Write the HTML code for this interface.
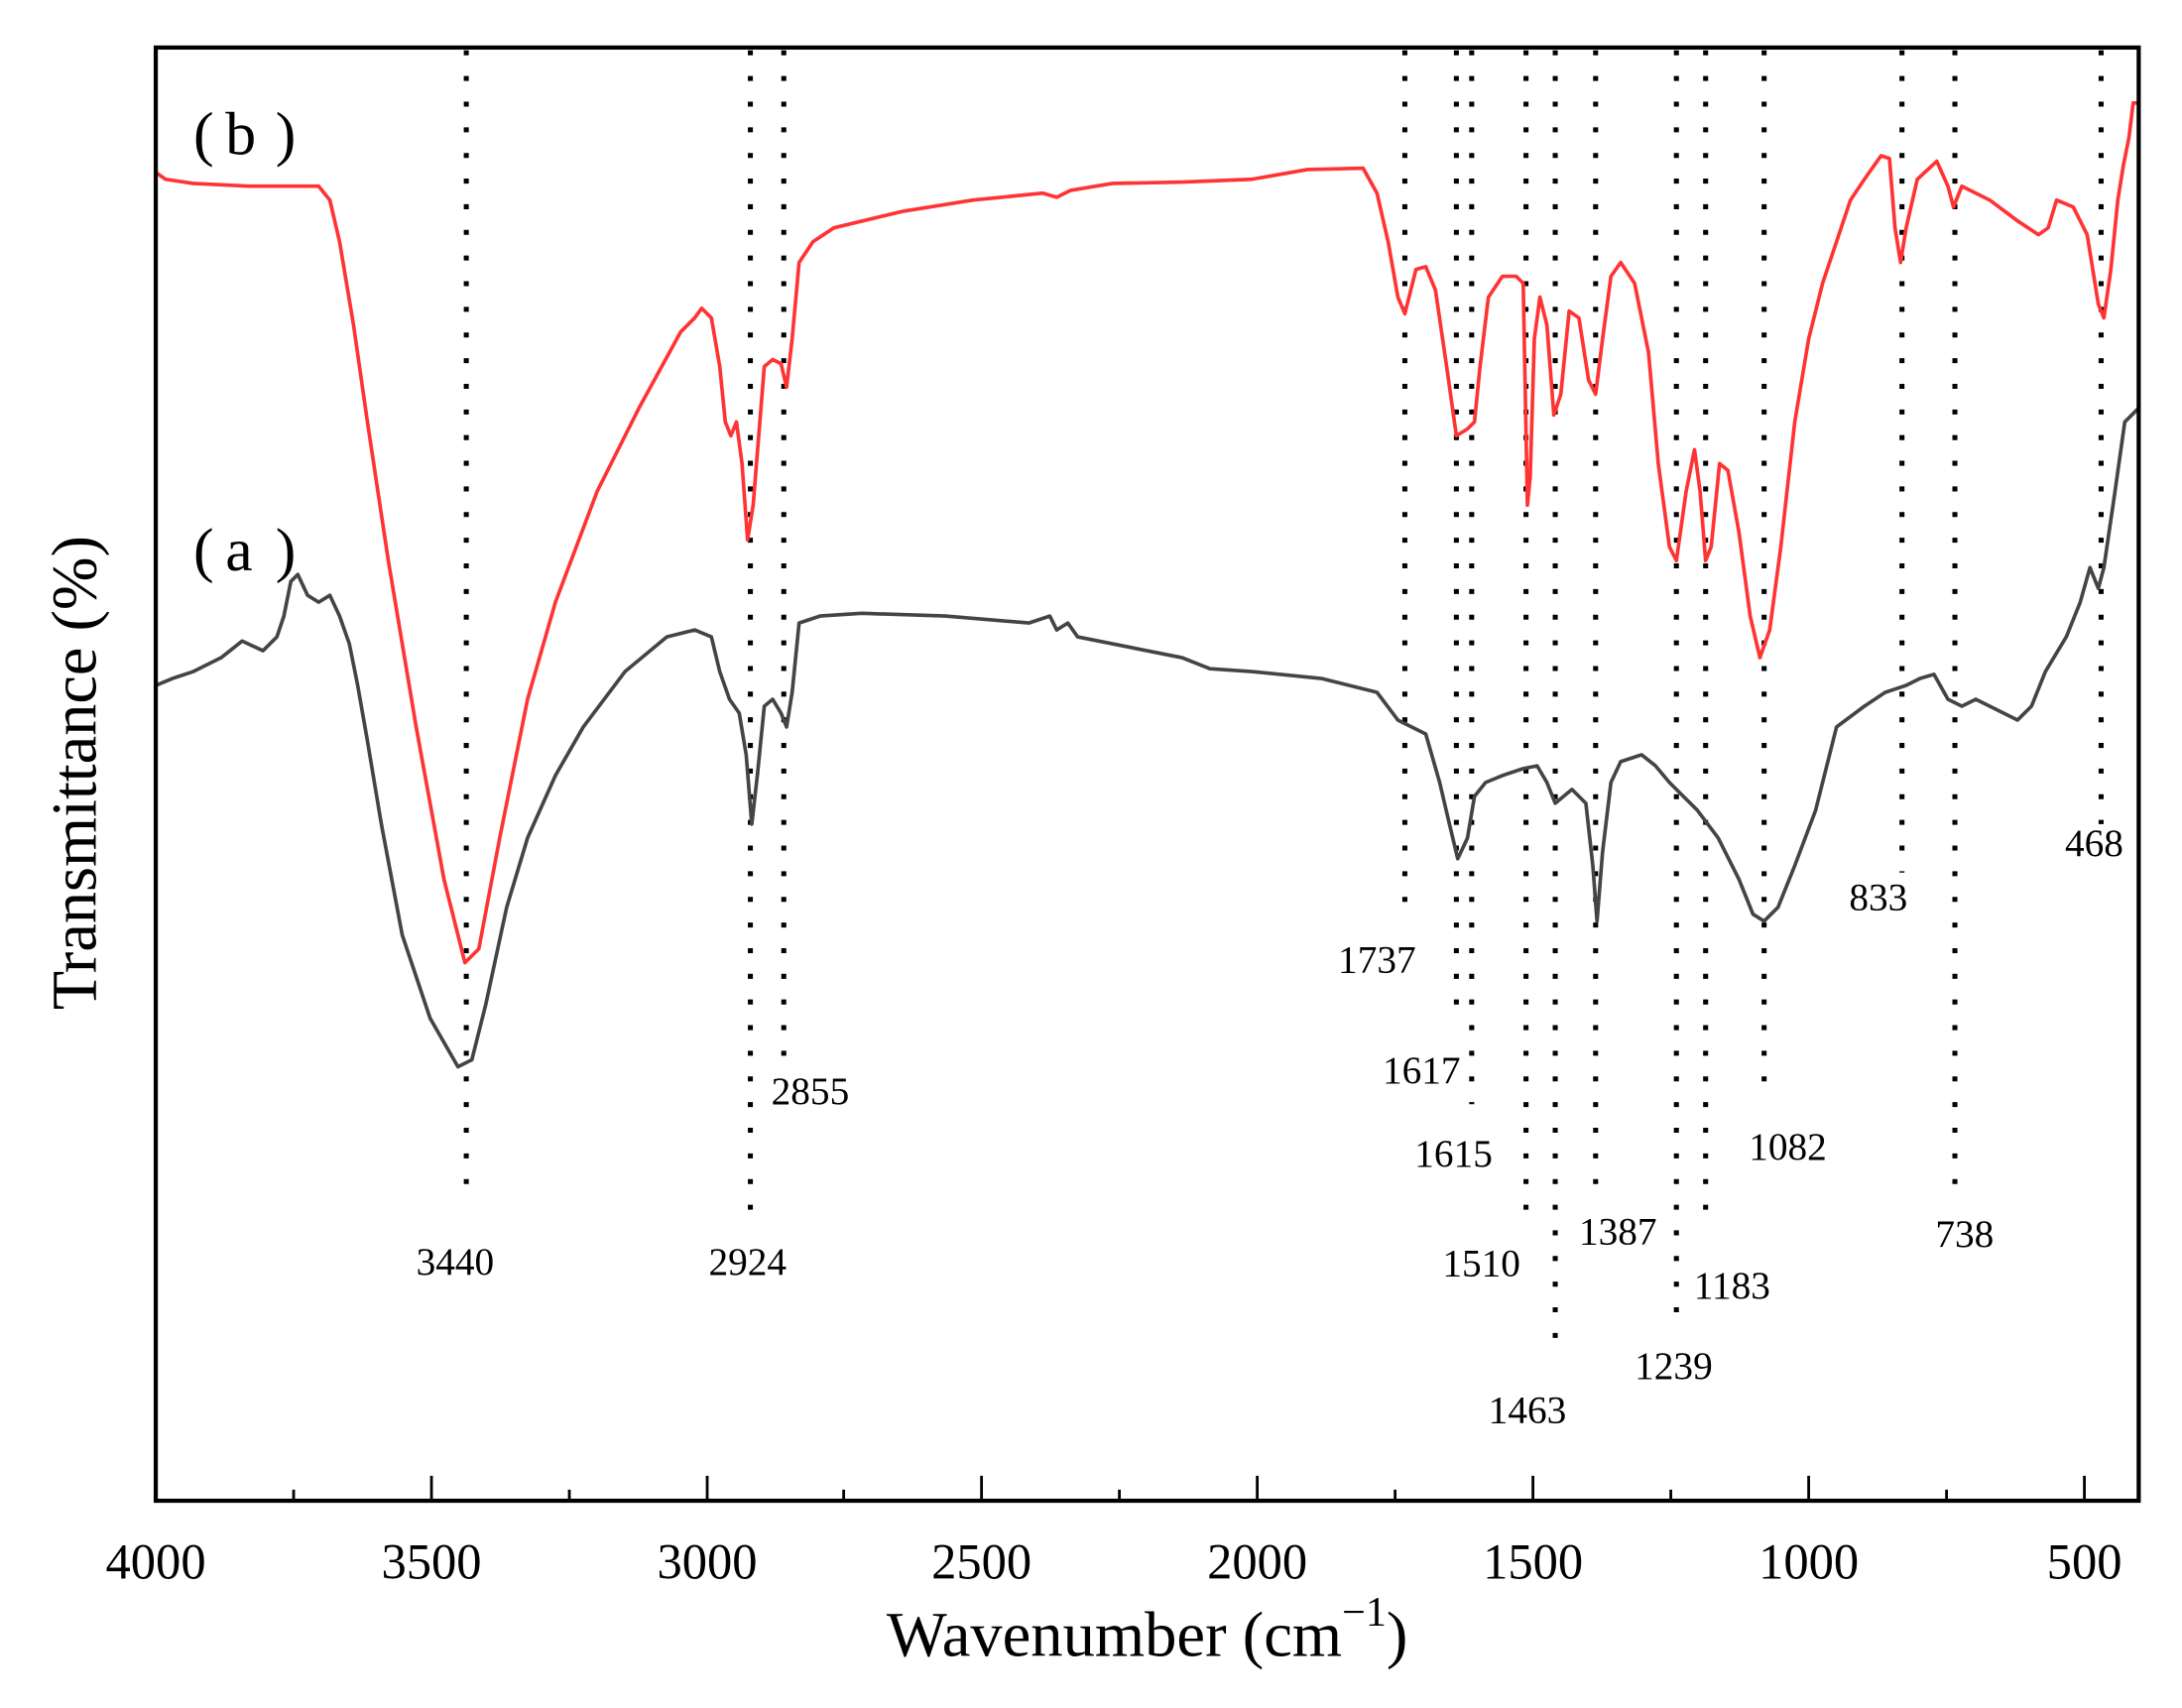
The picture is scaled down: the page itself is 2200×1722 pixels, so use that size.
<!DOCTYPE html>
<html><head><meta charset="utf-8"><style>
html,body{margin:0;padding:0;background:#fff;}
svg{display:block;}
text{font-family:"Liberation Serif",serif;fill:#000;}
</style></head><body>
<svg width="2200" height="1722" viewBox="0 0 2200 1722" xmlns="http://www.w3.org/2000/svg">
<rect width="2200" height="1722" fill="#fff"/>
<g transform="translate(-1.6,6) scale(1.404,1.398)">
<g stroke="#000" stroke-width="3.6" stroke-dasharray="3.6 14.9" fill="none">
<line x1="336" y1="32" x2="336" y2="860"/>
<line x1="540" y1="32" x2="540" y2="880"/>
<line x1="564" y1="32" x2="564" y2="770"/>
<line x1="1010" y1="32" x2="1010" y2="660"/>
<line x1="1047" y1="32" x2="1047" y2="735"/>
<line x1="1058" y1="32" x2="1058" y2="792"/>
<line x1="1097" y1="32" x2="1097" y2="880"/>
<line x1="1118" y1="32" x2="1118" y2="975"/>
<line x1="1147" y1="32" x2="1147" y2="860"/>
<line x1="1205" y1="32" x2="1205" y2="950"/>
<line x1="1226" y1="32" x2="1226" y2="880"/>
<line x1="1268" y1="32" x2="1268" y2="790"/>
<line x1="1367" y1="32" x2="1367" y2="625"/>
<line x1="1405" y1="32" x2="1405" y2="855"/>
<line x1="1510" y1="32" x2="1510" y2="590"/>
</g>
<polyline fill="none" stroke="#ff3333" stroke-width="2.6" stroke-linejoin="round" points="113,120 120,125 140,128 180,130 230,130 238,140 245,170 255,230 265,300 280,400 300,520 320,630 335,690 345,680 360,600 380,500 400,430 430,350 460,290 490,235 500,225 505,218 512,225 518,260 522,300 526,310 530,300 534,330 538,385 542,360 546,310 550,260 556,255 562,258 566,275 570,240 575,185 585,170 600,160 650,148 700,140 750,135 760,138 770,133 800,128 850,127 900,125 940,118 980,117 990,135 998,170 1005,210 1010,222 1018,190 1025,188 1032,205 1040,260 1047,310 1055,305 1060,300 1064,260 1070,210 1080,195 1090,195 1095,200 1098,360 1100,340 1103,240 1107,210 1112,230 1117,295 1122,280 1128,220 1135,225 1142,270 1147,280 1152,240 1158,195 1165,185 1175,200 1185,250 1192,330 1200,390 1205,400 1212,350 1218,320 1222,350 1226,400 1230,390 1236,330 1242,335 1250,380 1258,440 1265,470 1272,450 1280,390 1290,300 1300,240 1310,200 1320,170 1330,140 1340,125 1352,108 1358,110 1362,160 1366,185 1370,160 1378,125 1392,112 1400,130 1404,145 1410,130 1430,140 1450,155 1465,165 1472,160 1478,140 1490,145 1500,165 1508,215 1512,225 1517,190 1522,140 1526,115 1530,95 1533,70 1537,70"/>
<polyline fill="none" stroke="#444" stroke-width="2.6" stroke-linejoin="round" points="113,490 125,485 140,480 160,470 175,458 190,465 200,455 205,440 210,415 215,410 222,425 230,430 238,425 245,440 252,460 258,490 265,530 275,590 290,670 310,730 330,765 340,760 350,720 365,650 380,600 400,555 420,520 450,480 480,455 500,450 512,455 518,480 525,500 532,510 537,540 541,590 545,555 550,505 556,500 562,510 566,520 570,495 575,445 590,440 620,438 680,440 740,445 755,440 760,450 768,445 775,455 800,460 850,470 870,478 900,480 950,485 990,495 1005,515 1015,520 1025,525 1035,560 1042,590 1048,615 1055,600 1060,570 1068,560 1080,555 1095,550 1105,548 1112,560 1118,575 1124,570 1130,565 1140,575 1145,620 1148,660 1152,610 1158,560 1165,545 1180,540 1190,548 1200,560 1210,570 1220,580 1235,600 1250,630 1260,655 1268,660 1278,650 1290,620 1305,580 1320,520 1340,505 1355,495 1370,490 1380,485 1390,482 1400,500 1410,505 1420,500 1430,505 1440,510 1450,515 1460,505 1470,480 1485,455 1495,430 1502,405 1508,420 1512,405 1520,350 1527,300 1537,290"/>
<rect x="113" y="30" width="1424" height="1048" fill="none" stroke="#000" stroke-width="3"/>
<g stroke="#000" stroke-width="2">
<line x1="113" y1="1078" x2="113" y2="1060"/><line x1="311" y1="1078" x2="311" y2="1060"/><line x1="509" y1="1078" x2="509" y2="1060"/><line x1="706" y1="1078" x2="706" y2="1060"/><line x1="904" y1="1078" x2="904" y2="1060"/><line x1="1102" y1="1078" x2="1102" y2="1060"/><line x1="1300" y1="1078" x2="1300" y2="1060"/><line x1="1498" y1="1078" x2="1498" y2="1060"/>
<line x1="212" y1="1078" x2="212" y2="1070"/><line x1="410" y1="1078" x2="410" y2="1070"/><line x1="607" y1="1078" x2="607" y2="1070"/><line x1="805" y1="1078" x2="805" y2="1070"/><line x1="1003" y1="1078" x2="1003" y2="1070"/><line x1="1201" y1="1078" x2="1201" y2="1070"/><line x1="1399" y1="1078" x2="1399" y2="1070"/>
</g>
<g font-size="36" text-anchor="middle">
<text x="113" y="1134">4000</text><text x="311" y="1134">3500</text><text x="509" y="1134">3000</text><text x="706" y="1134">2500</text><text x="904" y="1134">2000</text><text x="1102" y="1134">1500</text><text x="1300" y="1134">1000</text><text x="1498" y="1134">500</text>
</g>
<text x="825" y="1190" font-size="46" text-anchor="middle">Wavenumber (cm<tspan font-size="30" dy="-22">−1</tspan><tspan dy="22">)</tspan></text>
<text transform="translate(70,553) rotate(-90)" font-size="46" text-anchor="middle">Transmittance (%)</text>
<g font-size="44">
<text x="140" y="107">(</text><text x="163" y="107">b</text><text x="199" y="107">)</text>
<text x="140" y="407">(</text><text x="163" y="407">a</text><text x="199" y="407">)</text>
</g>
<g font-size="28" text-anchor="middle">
<text x="328" y="915">3440</text><text x="538" y="915">2924</text><text x="583" y="792">2855</text>
<text x="990" y="697">1737</text><text x="1022" y="777">1617</text><text x="1045" y="837">1615</text>
<text x="1065" y="916">1510</text><text x="1163" y="893">1387</text><text x="1245" y="932">1183</text>
<text x="1203" y="990">1239</text><text x="1098" y="1022">1463</text><text x="1285" y="832">1082</text>
<text x="1350" y="652">833</text><text x="1412" y="895">738</text><text x="1505" y="613">468</text>
</g>
</g>
</svg>
</body></html>
